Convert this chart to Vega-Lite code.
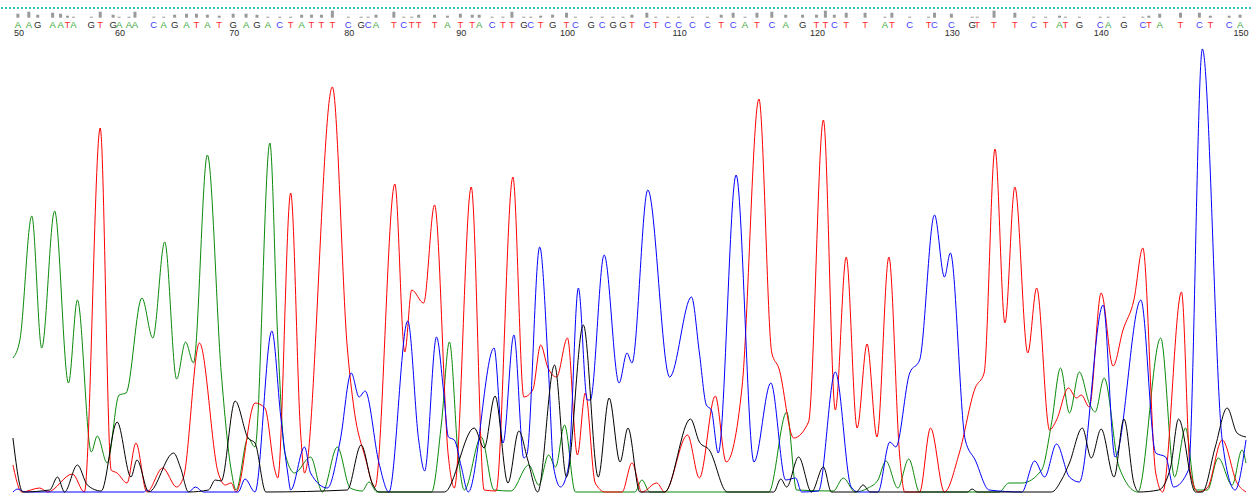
{
"$schema": "https://vega.github.io/schema/vega-lite/v6.json",
"width": 1251, "height": 493, "padding": 0,
"autosize": {"type": "none"},
"background": "white",
"config": {"view": {"stroke": null}},
"datasets": {
"traces": [
{"base":"A","scan":8,"signal":135},{"base":"A","scan":15,"signal":153},{"base":"A","scan":27,"signal":277},{"base":"A","scan":37,"signal":145},{"base":"A","scan":50,"signal":282},{"base":"A","scan":64,"signal":110},{"base":"A","scan":73,"signal":193},{"base":"A","scan":87,"signal":41},{"base":"A","scan":93,"signal":57},{"base":"A","scan":103,"signal":30},{"base":"A","scan":115,"signal":98},{"base":"A","scan":122,"signal":100},{"base":"A","scan":138,"signal":195},{"base":"A","scan":149,"signal":155},{"base":"A","scan":161,"signal":251},{"base":"A","scan":173,"signal":114},{"base":"A","scan":182,"signal":151},{"base":"A","scan":190,"signal":130},{"base":"A","scan":204,"signal":338},{"base":"A","scan":218,"signal":120},{"base":"A","scan":228,"signal":23},{"base":"A","scan":233,"signal":3},{"base":"A","scan":245,"signal":55},{"base":"A","scan":252,"signal":46},{"base":"A","scan":267,"signal":350},{"base":"A","scan":275,"signal":153},{"base":"A","scan":282,"signal":41},{"base":"A","scan":292,"signal":20},{"base":"A","scan":308,"signal":36},{"base":"A","scan":320,"signal":1},{"base":"A","scan":335,"signal":46},{"base":"A","scan":348,"signal":5},{"base":"A","scan":360,"signal":2},{"base":"A","scan":367,"signal":11},{"base":"A","scan":375,"signal":1},{"base":"A","scan":430,"signal":1},{"base":"A","scan":440,"signal":70},{"base":"A","scan":448,"signal":151},{"base":"A","scan":457,"signal":36},{"base":"A","scan":463,"signal":3},{"base":"A","scan":480,"signal":56},{"base":"A","scan":493,"signal":3},{"base":"A","scan":510,"signal":2},{"base":"A","scan":528,"signal":28},{"base":"A","scan":538,"signal":8},{"base":"A","scan":548,"signal":38},{"base":"A","scan":555,"signal":26},{"base":"A","scan":564,"signal":68},{"base":"A","scan":575,"signal":1},{"base":"A","scan":635,"signal":1},{"base":"A","scan":642,"signal":13},{"base":"A","scan":650,"signal":1},{"base":"A","scan":770,"signal":1},{"base":"A","scan":788,"signal":81},{"base":"A","scan":798,"signal":3},{"base":"A","scan":835,"signal":2},{"base":"A","scan":845,"signal":15},{"base":"A","scan":857,"signal":1},{"base":"A","scan":870,"signal":5},{"base":"A","scan":880,"signal":13},{"base":"A","scan":888,"signal":32},{"base":"A","scan":900,"signal":5},{"base":"A","scan":911,"signal":34},{"base":"A","scan":922,"signal":1},{"base":"A","scan":1002,"signal":1},{"base":"A","scan":1012,"signal":10},{"base":"A","scan":1025,"signal":10},{"base":"A","scan":1045,"signal":23},{"base":"A","scan":1055,"signal":70},{"base":"A","scan":1064,"signal":125},{"base":"A","scan":1073,"signal":80},{"base":"A","scan":1083,"signal":121},{"base":"A","scan":1093,"signal":90},{"base":"A","scan":1099,"signal":81},{"base":"A","scan":1108,"signal":115},{"base":"A","scan":1123,"signal":26},{"base":"A","scan":1142,"signal":1},{"base":"A","scan":1165,"signal":155},{"base":"A","scan":1179,"signal":16},{"base":"A","scan":1190,"signal":65},{"base":"A","scan":1200,"signal":3},{"base":"A","scan":1212,"signal":3},{"base":"A","scan":1223,"signal":35},{"base":"A","scan":1237,"signal":8},{"base":"A","scan":1247,"signal":43},{"base":"A","scan":1251,"signal":30},
{"base":"T","scan":8,"signal":28},{"base":"T","scan":17,"signal":1},{"base":"T","scan":35,"signal":5},{"base":"T","scan":43,"signal":1},{"base":"T","scan":68,"signal":19},{"base":"T","scan":80,"signal":1},{"base":"T","scan":96,"signal":365},{"base":"T","scan":107,"signal":23},{"base":"T","scan":113,"signal":20},{"base":"T","scan":123,"signal":10},{"base":"T","scan":132,"signal":50},{"base":"T","scan":143,"signal":1},{"base":"T","scan":159,"signal":25},{"base":"T","scan":173,"signal":6},{"base":"T","scan":180,"signal":16},{"base":"T","scan":196,"signal":150},{"base":"T","scan":215,"signal":20},{"base":"T","scan":222,"signal":8},{"base":"T","scan":228,"signal":10},{"base":"T","scan":233,"signal":1},{"base":"T","scan":252,"signal":90},{"base":"T","scan":262,"signal":85},{"base":"T","scan":272,"signal":23},{"base":"T","scan":275,"signal":15},{"base":"T","scan":288,"signal":300},{"base":"T","scan":298,"signal":60},{"base":"T","scan":302,"signal":20},{"base":"T","scan":330,"signal":406},{"base":"T","scan":345,"signal":146},{"base":"T","scan":352,"signal":83},{"base":"T","scan":363,"signal":36},{"base":"T","scan":373,"signal":6},{"base":"T","scan":393,"signal":309},{"base":"T","scan":403,"signal":141},{"base":"T","scan":410,"signal":203},{"base":"T","scan":422,"signal":190},{"base":"T","scan":433,"signal":288},{"base":"T","scan":447,"signal":36},{"base":"T","scan":453,"signal":5},{"base":"T","scan":470,"signal":306},{"base":"T","scan":483,"signal":3},{"base":"T","scan":495,"signal":2},{"base":"T","scan":512,"signal":316},{"base":"T","scan":523,"signal":96},{"base":"T","scan":532,"signal":103},{"base":"T","scan":540,"signal":148},{"base":"T","scan":547,"signal":126},{"base":"T","scan":556,"signal":116},{"base":"T","scan":567,"signal":155},{"base":"T","scan":577,"signal":38},{"base":"T","scan":585,"signal":100},{"base":"T","scan":595,"signal":10},{"base":"T","scan":605,"signal":1},{"base":"T","scan":622,"signal":1},{"base":"T","scan":632,"signal":30},{"base":"T","scan":642,"signal":1},{"base":"T","scan":657,"signal":10},{"base":"T","scan":665,"signal":1},{"base":"T","scan":688,"signal":58},{"base":"T","scan":700,"signal":15},{"base":"T","scan":716,"signal":97},{"base":"T","scan":727,"signal":31},{"base":"T","scan":743,"signal":106},{"base":"T","scan":760,"signal":394},{"base":"T","scan":773,"signal":140},{"base":"T","scan":780,"signal":125},{"base":"T","scan":795,"signal":55},{"base":"T","scan":810,"signal":71},{"base":"T","scan":825,"signal":373},{"base":"T","scan":837,"signal":83},{"base":"T","scan":848,"signal":236},{"base":"T","scan":859,"signal":65},{"base":"T","scan":869,"signal":149},{"base":"T","scan":879,"signal":56},{"base":"T","scan":891,"signal":236},{"base":"T","scan":902,"signal":36},{"base":"T","scan":907,"signal":1},{"base":"T","scan":922,"signal":1},{"base":"T","scan":933,"signal":65},{"base":"T","scan":947,"signal":1},{"base":"T","scan":962,"signal":40},{"base":"T","scan":978,"signal":105},{"base":"T","scan":987,"signal":120},{"base":"T","scan":998,"signal":344},{"base":"T","scan":1008,"signal":170},{"base":"T","scan":1018,"signal":306},{"base":"T","scan":1031,"signal":140},{"base":"T","scan":1040,"signal":205},{"base":"T","scan":1053,"signal":63},{"base":"T","scan":1060,"signal":73},{"base":"T","scan":1072,"signal":105},{"base":"T","scan":1080,"signal":95},{"base":"T","scan":1085,"signal":98},{"base":"T","scan":1093,"signal":86},{"base":"T","scan":1105,"signal":200},{"base":"T","scan":1117,"signal":127},{"base":"T","scan":1127,"signal":163},{"base":"T","scan":1138,"signal":193},{"base":"T","scan":1147,"signal":245},{"base":"T","scan":1160,"signal":20},{"base":"T","scan":1167,"signal":1},{"base":"T","scan":1186,"signal":201},{"base":"T","scan":1195,"signal":20},{"base":"T","scan":1203,"signal":1},{"base":"T","scan":1212,"signal":5},{"base":"T","scan":1227,"signal":53},{"base":"T","scan":1242,"signal":10},{"base":"T","scan":1251,"signal":1},
{"base":"C","scan":8,"signal":1},{"base":"C","scan":13,"signal":4},{"base":"C","scan":20,"signal":1},{"base":"C","scan":140,"signal":1},{"base":"C","scan":143,"signal":3},{"base":"C","scan":147,"signal":1},{"base":"C","scan":185,"signal":1},{"base":"C","scan":192,"signal":6},{"base":"C","scan":200,"signal":1},{"base":"C","scan":235,"signal":1},{"base":"C","scan":242,"signal":14},{"base":"C","scan":252,"signal":1},{"base":"C","scan":269,"signal":162},{"base":"C","scan":278,"signal":76},{"base":"C","scan":285,"signal":20},{"base":"C","scan":288,"signal":3},{"base":"C","scan":302,"signal":46},{"base":"C","scan":308,"signal":20},{"base":"C","scan":325,"signal":5},{"base":"C","scan":338,"signal":53},{"base":"C","scan":349,"signal":120},{"base":"C","scan":357,"signal":96},{"base":"C","scan":363,"signal":102},{"base":"C","scan":377,"signal":30},{"base":"C","scan":387,"signal":1},{"base":"C","scan":406,"signal":172},{"base":"C","scan":417,"signal":53},{"base":"C","scan":423,"signal":22},{"base":"C","scan":435,"signal":156},{"base":"C","scan":442,"signal":103},{"base":"C","scan":447,"signal":56},{"base":"C","scan":453,"signal":53},{"base":"C","scan":460,"signal":26},{"base":"C","scan":467,"signal":1},{"base":"C","scan":493,"signal":145},{"base":"C","scan":502,"signal":50},{"base":"C","scan":513,"signal":158},{"base":"C","scan":523,"signal":35},{"base":"C","scan":526,"signal":38},{"base":"C","scan":539,"signal":246},{"base":"C","scan":548,"signal":120},{"base":"C","scan":553,"signal":26},{"base":"C","scan":560,"signal":6},{"base":"C","scan":568,"signal":26},{"base":"C","scan":578,"signal":205},{"base":"C","scan":587,"signal":93},{"base":"C","scan":590,"signal":93},{"base":"C","scan":604,"signal":238},{"base":"C","scan":619,"signal":110},{"base":"C","scan":627,"signal":140},{"base":"C","scan":632,"signal":130},{"base":"C","scan":648,"signal":303},{"base":"C","scan":670,"signal":116},{"base":"C","scan":692,"signal":196},{"base":"C","scan":700,"signal":140},{"base":"C","scan":707,"signal":88},{"base":"C","scan":712,"signal":83},{"base":"C","scan":719,"signal":40},{"base":"C","scan":737,"signal":318},{"base":"C","scan":755,"signal":31},{"base":"C","scan":772,"signal":110},{"base":"C","scan":787,"signal":13},{"base":"C","scan":797,"signal":15},{"base":"C","scan":803,"signal":1},{"base":"C","scan":820,"signal":2},{"base":"C","scan":837,"signal":121},{"base":"C","scan":853,"signal":6},{"base":"C","scan":860,"signal":1},{"base":"C","scan":880,"signal":1},{"base":"C","scan":892,"signal":51},{"base":"C","scan":898,"signal":46},{"base":"C","scan":912,"signal":120},{"base":"C","scan":922,"signal":133},{"base":"C","scan":937,"signal":278},{"base":"C","scan":947,"signal":216},{"base":"C","scan":953,"signal":240},{"base":"C","scan":968,"signal":53},{"base":"C","scan":978,"signal":33},{"base":"C","scan":992,"signal":3},{"base":"C","scan":1025,"signal":1},{"base":"C","scan":1038,"signal":32},{"base":"C","scan":1048,"signal":16},{"base":"C","scan":1060,"signal":49},{"base":"C","scan":1073,"signal":16},{"base":"C","scan":1083,"signal":11},{"base":"C","scan":1107,"signal":188},{"base":"C","scan":1119,"signal":36},{"base":"C","scan":1145,"signal":193},{"base":"C","scan":1160,"signal":40},{"base":"C","scan":1170,"signal":36},{"base":"C","scan":1178,"signal":6},{"base":"C","scan":1193,"signal":23},{"base":"C","scan":1207,"signal":444},{"base":"C","scan":1227,"signal":53},{"base":"C","scan":1240,"signal":3},{"base":"C","scan":1251,"signal":53},
{"base":"G","scan":8,"signal":55},{"base":"G","scan":18,"signal":1},{"base":"G","scan":45,"signal":3},{"base":"G","scan":53,"signal":16},{"base":"G","scan":60,"signal":1},{"base":"G","scan":73,"signal":28},{"base":"G","scan":83,"signal":8},{"base":"G","scan":97,"signal":2},{"base":"G","scan":113,"signal":71},{"base":"G","scan":127,"signal":16},{"base":"G","scan":133,"signal":33},{"base":"G","scan":145,"signal":1},{"base":"G","scan":170,"signal":40},{"base":"G","scan":177,"signal":25},{"base":"G","scan":185,"signal":1},{"base":"G","scan":205,"signal":3},{"base":"G","scan":212,"signal":13},{"base":"G","scan":218,"signal":12},{"base":"G","scan":232,"signal":92},{"base":"G","scan":245,"signal":55},{"base":"G","scan":252,"signal":50},{"base":"G","scan":263,"signal":1},{"base":"G","scan":345,"signal":3},{"base":"G","scan":359,"signal":48},{"base":"G","scan":370,"signal":10},{"base":"G","scan":377,"signal":1},{"base":"G","scan":443,"signal":1},{"base":"G","scan":473,"signal":65},{"base":"G","scan":483,"signal":45},{"base":"G","scan":494,"signal":97},{"base":"G","scan":507,"signal":10},{"base":"G","scan":518,"signal":62},{"base":"G","scan":527,"signal":33},{"base":"G","scan":537,"signal":1},{"base":"G","scan":554,"signal":128},{"base":"G","scan":566,"signal":16},{"base":"G","scan":583,"signal":168},{"base":"G","scan":598,"signal":16},{"base":"G","scan":609,"signal":95},{"base":"G","scan":620,"signal":31},{"base":"G","scan":628,"signal":65},{"base":"G","scan":640,"signal":1},{"base":"G","scan":665,"signal":1},{"base":"G","scan":691,"signal":74},{"base":"G","scan":700,"signal":51},{"base":"G","scan":710,"signal":43},{"base":"G","scan":728,"signal":1},{"base":"G","scan":775,"signal":1},{"base":"G","scan":782,"signal":14},{"base":"G","scan":788,"signal":6},{"base":"G","scan":800,"signal":36},{"base":"G","scan":813,"signal":1},{"base":"G","scan":825,"signal":26},{"base":"G","scan":833,"signal":1},{"base":"G","scan":858,"signal":1},{"base":"G","scan":865,"signal":8},{"base":"G","scan":872,"signal":1},{"base":"G","scan":970,"signal":1},{"base":"G","scan":975,"signal":4},{"base":"G","scan":980,"signal":1},{"base":"G","scan":1055,"signal":1},{"base":"G","scan":1065,"signal":13},{"base":"G","scan":1073,"signal":30},{"base":"G","scan":1086,"signal":65},{"base":"G","scan":1095,"signal":35},{"base":"G","scan":1105,"signal":64},{"base":"G","scan":1118,"signal":16},{"base":"G","scan":1128,"signal":74},{"base":"G","scan":1138,"signal":10},{"base":"G","scan":1143,"signal":1},{"base":"G","scan":1163,"signal":3},{"base":"G","scan":1175,"signal":26},{"base":"G","scan":1183,"signal":74},{"base":"G","scan":1200,"signal":1},{"base":"G","scan":1207,"signal":1},{"base":"G","scan":1220,"signal":46},{"base":"G","scan":1232,"signal":85},{"base":"G","scan":1242,"signal":60},{"base":"G","scan":1251,"signal":56}
],
"calls": [
{"pos":50,"base":"A","scan":13,"q":4},{"pos":51,"base":"A","scan":24,"q":6},{"pos":52,"base":"G","scan":33,"q":3},{"pos":53,"base":"A","scan":48,"q":5},{"pos":54,"base":"A","scan":56,"q":4},{"pos":55,"base":"T","scan":63,"q":2},{"pos":56,"base":"A","scan":69,"q":1},{"pos":57,"base":"G","scan":87,"q":1},{"pos":58,"base":"T","scan":96,"q":6},{"pos":59,"base":"G","scan":109,"q":3},
{"pos":60,"base":"A","scan":115,"q":1},{"pos":61,"base":"A","scan":125,"q":1},{"pos":62,"base":"A","scan":131,"q":6},{"pos":63,"base":"C","scan":150,"q":1},{"pos":64,"base":"A","scan":160,"q":1},{"pos":65,"base":"G","scan":171,"q":3},{"pos":66,"base":"A","scan":183,"q":4},{"pos":67,"base":"T","scan":193,"q":4},{"pos":68,"base":"A","scan":204,"q":3},{"pos":69,"base":"T","scan":216,"q":2},
{"pos":70,"base":"G","scan":230,"q":4},{"pos":71,"base":"A","scan":243,"q":4},{"pos":72,"base":"G","scan":254,"q":3},{"pos":73,"base":"A","scan":265,"q":1},{"pos":74,"base":"C","scan":277,"q":1},{"pos":75,"base":"T","scan":288,"q":1},{"pos":76,"base":"A","scan":299,"q":3},{"pos":77,"base":"T","scan":309,"q":3},{"pos":78,"base":"T","scan":319,"q":3},{"pos":79,"base":"T","scan":330,"q":7},
{"pos":80,"base":"C","scan":346,"q":1},{"pos":81,"base":"G","scan":359,"q":1},{"pos":82,"base":"C","scan":366,"q":1},{"pos":83,"base":"A","scan":374,"q":3},{"pos":84,"base":"T","scan":392,"q":6},{"pos":85,"base":"C","scan":402,"q":1},{"pos":86,"base":"T","scan":410,"q":1},{"pos":87,"base":"T","scan":417,"q":3},{"pos":88,"base":"T","scan":433,"q":3},{"pos":89,"base":"A","scan":446,"q":2},
{"pos":90,"base":"T","scan":459,"q":4},{"pos":91,"base":"T","scan":471,"q":3},{"pos":92,"base":"A","scan":478,"q":3},{"pos":93,"base":"C","scan":491,"q":1},{"pos":94,"base":"T","scan":502,"q":1},{"pos":95,"base":"T","scan":511,"q":6},{"pos":96,"base":"G","scan":523,"q":1},{"pos":97,"base":"C","scan":530,"q":1},{"pos":98,"base":"T","scan":540,"q":2},{"pos":99,"base":"G","scan":552,"q":3},
{"pos":100,"base":"T","scan":566,"q":5},{"pos":101,"base":"C","scan":575,"q":1},{"pos":102,"base":"G","scan":591,"q":1},{"pos":103,"base":"C","scan":602,"q":1},{"pos":104,"base":"G","scan":613,"q":1},{"pos":105,"base":"G","scan":623,"q":1},{"pos":106,"base":"T","scan":632,"q":3},{"pos":107,"base":"C","scan":647,"q":5},{"pos":108,"base":"T","scan":656,"q":1},{"pos":109,"base":"C","scan":668,"q":1},
{"pos":110,"base":"C","scan":679,"q":1},{"pos":111,"base":"C","scan":693,"q":1},{"pos":112,"base":"C","scan":708,"q":1},{"pos":113,"base":"T","scan":722,"q":3},{"pos":114,"base":"C","scan":734,"q":5},{"pos":115,"base":"A","scan":746,"q":1},{"pos":116,"base":"T","scan":758,"q":5},{"pos":117,"base":"C","scan":773,"q":6},{"pos":118,"base":"A","scan":787,"q":3},{"pos":119,"base":"G","scan":804,"q":3},
{"pos":120,"base":"T","scan":818,"q":3},{"pos":121,"base":"T","scan":827,"q":7},{"pos":122,"base":"C","scan":836,"q":3},{"pos":123,"base":"T","scan":848,"q":5},{"pos":124,"base":"T","scan":867,"q":5},{"pos":125,"base":"A","scan":887,"q":1},{"pos":126,"base":"T","scan":894,"q":5},{"pos":127,"base":"C","scan":912,"q":1},{"pos":128,"base":"T","scan":931,"q":1},{"pos":129,"base":"C","scan":937,"q":5},
{"pos":130,"base":"C","scan":954,"q":4},{"pos":131,"base":"G","scan":975,"q":1},{"pos":132,"base":"T","scan":980,"q":1},{"pos":133,"base":"T","scan":997,"q":7},{"pos":134,"base":"T","scan":1018,"q":5},{"pos":135,"base":"C","scan":1037,"q":1},{"pos":136,"base":"T","scan":1049,"q":1},{"pos":137,"base":"A","scan":1063,"q":2},{"pos":138,"base":"T","scan":1069,"q":1},{"pos":139,"base":"G","scan":1083,"q":1},
{"pos":140,"base":"C","scan":1104,"q":1},{"pos":141,"base":"A","scan":1112,"q":1},{"pos":142,"base":"G","scan":1128,"q":1},{"pos":143,"base":"C","scan":1147,"q":1},{"pos":144,"base":"T","scan":1153,"q":2},{"pos":145,"base":"A","scan":1164,"q":4},{"pos":146,"base":"T","scan":1185,"q":5},{"pos":147,"base":"C","scan":1204,"q":5},{"pos":148,"base":"T","scan":1215,"q":2},{"pos":149,"base":"C","scan":1234,"q":2},{"pos":150,"base":"A","scan":1245,"q":3}
]
},
"resolve": {"scale": {"y": "independent", "color": "independent"}},
"layer": [
{
"data": {"name": "traces"},
"mark": {"type": "line", "interpolate": "monotone", "strokeWidth": 1, "clip": true},
"encoding": {
"x": {"field": "scan", "type": "quantitative", "axis": null, "scale": {"domain": [0, 1251], "nice": false, "zero": false}},
"y": {"field": "signal", "type": "quantitative", "axis": null, "scale": {"domain": [0, 493], "nice": false}},
"color": {"field": "base", "type": "nominal", "legend": null, "scale": {"domain": ["G", "A", "C", "T"], "range": ["#000000", "#0a8a0a", "#0000ff", "#ff0000"]}}
}
},
{
"data": {"name": "calls"},
"mark": {"type": "rule", "stroke": "#33c6c6", "strokeWidth": 1, "strokeDash": [2, 2]},
"encoding": {
"y": {"datum": 485, "type": "quantitative", "axis": null, "scale": {"domain": [0, 493], "nice": false}}
}
},
{
"data": {"name": "calls"},
"mark": {"type": "bar", "width": 3, "color": "#9a9a9a"},
"encoding": {
"x": {"field": "scan", "type": "quantitative"},
"y": {"field": "q", "type": "quantitative", "axis": null, "scale": {"domain": [0, 8], "range": [17.7, 9.7], "nice": false}}
}
},
{
"data": {"name": "calls"},
"mark": {"type": "text", "font": "Liberation Sans", "fontSize": 9.5, "baseline": "middle", "align": "center"},
"encoding": {
"x": {"field": "scan", "type": "quantitative"},
"y": {"datum": 468, "type": "quantitative", "axis": null, "scale": {"domain": [0, 493], "nice": false}},
"text": {"field": "base"},
"color": {"field": "base", "type": "nominal", "legend": null, "scale": {"domain": ["G", "A", "C", "T"], "range": ["#2a2a2a", "#3aa83a", "#4040ff", "#ff3030"]}}
}
},
{
"data": {"name": "calls"},
"transform": [{"filter": "datum.pos % 10 === 0"}],
"mark": {"type": "text", "font": "Liberation Sans", "fontSize": 9, "baseline": "middle", "align": "center", "dx": 1, "color": "#2a2a2a"},
"encoding": {
"x": {"field": "scan", "type": "quantitative"},
"y": {"datum": 460, "type": "quantitative", "axis": null, "scale": {"domain": [0, 493], "nice": false}},
"text": {"field": "pos", "type": "quantitative"}
}
}
]
}
